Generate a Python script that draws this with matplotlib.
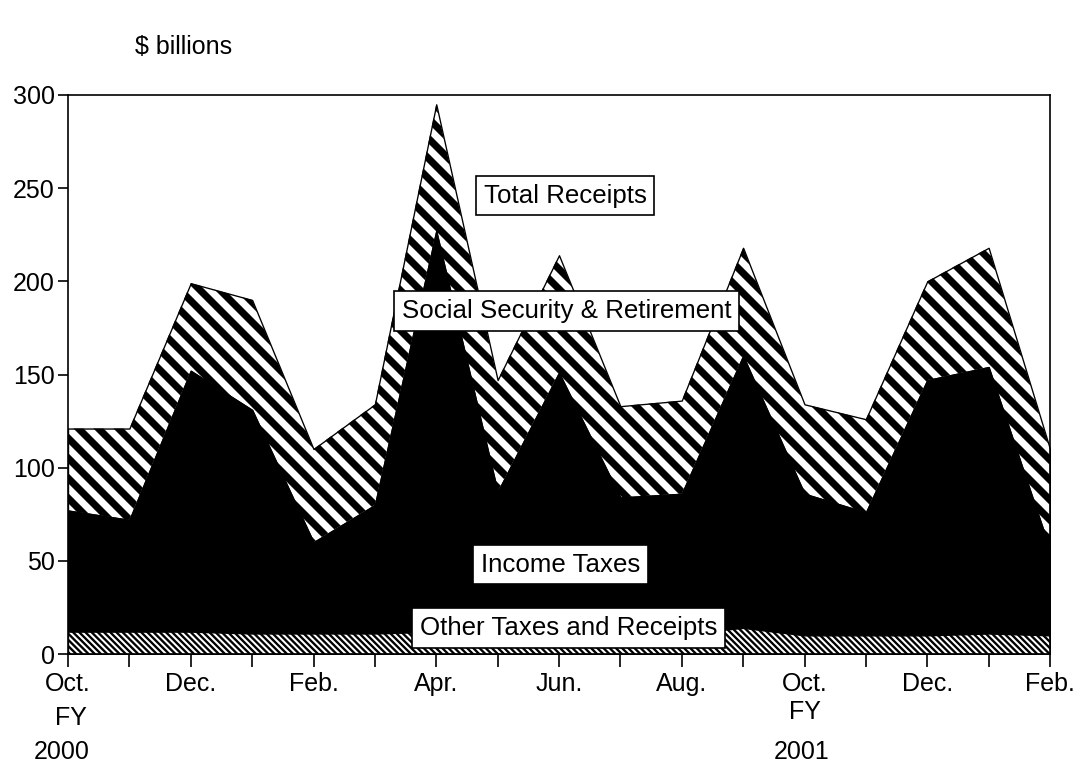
import matplotlib
matplotlib.use("Agg")
import matplotlib.pyplot as plt
from matplotlib.collections import LineCollection
from matplotlib.transforms import IdentityTransform
import numpy as np

plt.rcParams['font.family'] = ['Liberation Sans', 'DejaVu Sans']

# monthly receipts, Oct 1999 .. Feb 2001 ($ billions)
months = ['Oct.', 'Nov.', 'Dec.', 'Jan.', 'Feb.', 'Mar.', 'Apr.', 'May', 'Jun.',
          'Jul.', 'Aug.', 'Sep.', 'Oct.', 'Nov.', 'Dec.', 'Jan.', 'Feb.']
other_taxes = [12, 12, 12, 11, 11, 11, 12, 10, 10, 10, 11, 14, 10, 10, 10, 11, 10]
income_taxes = [65, 60, 140, 120, 49, 69, 215, 77, 141, 74, 75, 146, 76, 66, 137, 143, 46]
social_security = [44, 49, 47, 59, 50, 54, 68, 60, 63, 49, 50, 58, 48, 50, 53, 64, 54]

x = np.arange(len(months))
other = np.array(other_taxes)
income_top = other + np.array(income_taxes)
total = income_top + np.array(social_security)

W, H, DPI = 1079, 770, 120


def striped(ax, lo, hi, period, lw):
    # white area with diagonal black stripes, drawn in pixel space and clipped
    poly = ax.fill_between(x, lo, hi, facecolor='white', edgecolor='black', linewidth=0.8)
    segs = [[(c, H), (c + H, 0)] for c in np.arange(-H, W + period, period)]
    lc = LineCollection(segs, colors='black', linewidths=lw, transform=IdentityTransform())
    ax.add_collection(lc, autolim=False)
    lc.set_clip_path(poly.get_paths()[0], ax.transData)
    return poly


fig = plt.figure(figsize=(W / DPI, H / DPI), dpi=DPI)
ax = fig.add_axes([68 / W, 1 - 654 / H, (1050 - 68) / W, (654 - 95) / H])
ax.set_xlim(0, len(months) - 1)
ax.set_ylim(0, 300)

striped(ax, income_top, total, 20, 4.3)
ax.fill_between(x, other, income_top, facecolor='black', edgecolor='black', linewidth=0.8)
striped(ax, 0, other, 6.2, 1.4)

ax.set_yticks(range(0, 301, 50))
ax.set_xticks(x)
ax.set_xticklabels([m if i % 2 == 0 else '' for i, m in enumerate(months)])
ax.tick_params(axis='y', labelsize=15, length=6, width=1, pad=2)
ax.tick_params(axis='x', labelsize=15, length=8, width=1, pad=3)
for s in ax.spines.values():
    s.set_linewidth(1)

box = dict(boxstyle='square,pad=0.3', facecolor='white', edgecolor='black', linewidth=1)
ax.text(8.1, 246, 'Total Receipts', fontsize=15.5, ha='center', va='center', bbox=box)
ax.text(8.12, 184, 'Social Security & Retirement', fontsize=15.5, ha='center', va='center', bbox=box)
ax.text(8.03, 48, 'Income Taxes', fontsize=15.5, ha='center', va='center', bbox=box)
ax.text(8.15, 14, 'Other Taxes and Receipts', fontsize=15.5, ha='center', va='center', bbox=box)

tr = ax.get_xaxis_transform()
ax.text(0.05, -0.115, 'FY', fontsize=15, ha='center', va='center', transform=tr)
ax.text(-0.1, -0.175, '2000', fontsize=15, ha='center', va='center', transform=tr)
ax.text(12, -0.104, 'FY', fontsize=15, ha='center', va='center', transform=tr)
ax.text(11.95, -0.175, '2001', fontsize=15, ha='center', va='center', transform=tr)

fig.text(135 / W, 1 - 47 / H, '$ billions', fontsize=15, ha='left', va='center')

fig.savefig('out.png', dpi=DPI)
